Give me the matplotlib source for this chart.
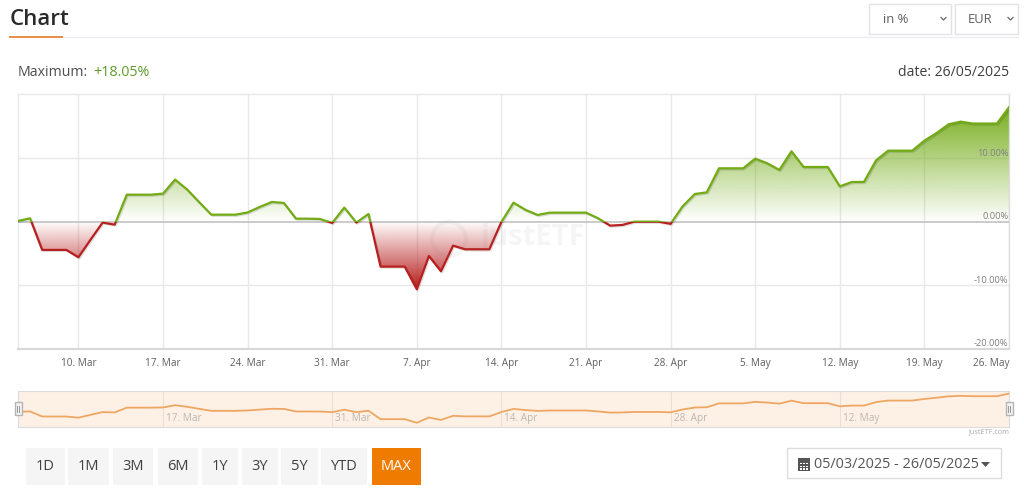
import numpy as np
import pandas as pd
import matplotlib
matplotlib.use("Agg")
import matplotlib.pyplot as plt
import matplotlib.dates as mdates
import matplotlib.patheffects as pe
from matplotlib.patches import Rectangle, Circle, Polygon

plt.rcParams["font.family"] = ["Open Sans", "DejaVu Sans"]

# daily performance in %, 05/03/2025 - 26/05/2025
march = [0.16, 0.58, -4.4, -4.4, -4.4, -5.56, -2.8, -0.1, -0.42, 4.3, 4.3, 4.3, 4.46, 6.67,
         5.1, 3.1, 1.15, 1.15, 1.15, 1.5, 2.36, 3.15, 3.0, 0.52, 0.52, 0.47, -0.16]
april = [2.26, -0.1, 1.26, -7.03, -7.03, -7.03, -10.6, -5.35, -7.77, -3.73, -4.3, -4.3, -4.3,
         0.0, 3.04, 1.9, 1.1, 1.47, 1.47, 1.47, 1.47, 0.58, -0.58, -0.47, 0.05, 0.05, 0.05,
         -0.3, 2.47, 4.4]
may = [4.67, 8.45, 8.45, 8.45, 9.97, 9.24, 8.19, 11.13, 8.66, 8.66, 8.66, 5.6, 6.3, 6.3, 9.7,
       11.23, 11.23, 11.23, 12.8, 14.0, 15.38, 15.8, 15.5, 15.5, 15.5, 18.05]

week_dates = ["2025-03-10", "2025-03-17", "2025-03-24", "2025-03-31", "2025-04-07", "2025-04-14",
              "2025-04-21", "2025-04-28", "2025-05-05", "2025-05-12", "2025-05-19", "2025-05-26"]
week_labels = ["10. Mar", "17. Mar", "24. Mar", "31. Mar", "7. Apr", "14. Apr",
               "21. Apr", "28. Apr", "5. May", "12. May", "19. May", "26. May"]
nav_dates = ["2025-03-17", "2025-03-31", "2025-04-14", "2025-04-28", "2025-05-12"]
nav_labels = ["17. Mar", "31. Mar", "14. Apr", "28. Apr", "12. May"]
y_ticks = [10, 0, -10, -20]
y_labels = ["10.00%", "0.00%", "-10.00%", "-20.00%"]
buttons = ["1D", "1M", "3M", "6M", "1Y", "3Y", "5Y", "YTD", "MAX"]
button_edges = [(26, 65), (68, 109), (113, 153), (158, 198), (202, 238), (242, 278), (281, 318),
                (321, 367), (372, 421)]

W, H = 1024, 497
GREEN = "#72ab14"
RED = "#b81f1f"
GRID = "#e8e8e8"

values = np.array(march + april + may)
x = mdates.date2num(pd.date_range("2025-03-05", "2025-05-26"))
week_x = mdates.date2num(pd.to_datetime(week_dates))
nav_x = mdates.date2num(pd.to_datetime(nav_dates))


def px_axes(fig, left, top, right, bottom, **kw):
    return fig.add_axes([left / W, 1 - bottom / H, (right - left) / W, (bottom - top) / H], **kw)


def gradient(ax, color, extent, top_alpha, clip):
    # vertical colour ramp, clipped to the area under the line
    rgba = np.zeros((256, 1, 4))
    rgba[..., :3] = matplotlib.colors.to_rgb(color)
    rgba[..., 3] = np.linspace(top_alpha[0], top_alpha[1], 256)[:, None]
    im = ax.imshow(rgba, extent=extent, aspect="auto", origin="upper", zorder=2, interpolation="bilinear")
    im.set_clip_path(clip)


def draw_main(ax):
    ax.set_xlim(x[0], x[-1])
    ax.set_ylim(-20, 20.15)
    ax.set_facecolor("none")
    for s in ax.spines.values():
        s.set_color(GRID)
        s.set_linewidth(1)
    ax.spines["bottom"].set_color("#d8d8d8")
    ax.spines["bottom"].set_linewidth(1.5)
    ax.spines["right"].set_color("#dddddd")

    ax.set_xticks(week_x)
    ax.set_xticklabels(week_labels, color="#5f5f5f", fontsize=7.2)
    ax.get_xticklabels()[-1].set_ha("right")
    ax.tick_params(axis="x", length=0, pad=6.5)
    ax.set_yticks([10, -10])
    ax.set_yticklabels([])
    ax.tick_params(axis="y", length=0)
    ax.grid(True, color=GRID, linewidth=1)
    ax.set_axisbelow(True)

    poly = ax.fill_between(x, values, 0, color="none", linewidth=0)
    clip = matplotlib.transforms.TransformedPath(poly.get_paths()[0], ax.transData)
    gradient(ax, "#78ae1e", (x[0], x[-1], 0, values.max()), (1, 0), clip)
    gradient(ax, "#b71c1c", (x[0], x[-1], values.min(), 0), (0, 1), clip)
    ax.set_xlim(x[0], x[-1])
    ax.set_ylim(-20, 20.15)

    ax.axhline(0, color="#bdbdbd", linewidth=1.1, zorder=3)

    shadow = [pe.SimpleLineShadow(offset=(0.8, -0.8), shadow_color="k", alpha=0.12), pe.Normal()]
    up, = ax.plot(x, values, color=GREEN, linewidth=1.6, zorder=4, path_effects=shadow)
    down, = ax.plot(x, values, color=RED, linewidth=1.6, zorder=4, path_effects=shadow)
    up.set_clip_path(Rectangle((x[0], 0), x[-1] - x[0], 21, transform=ax.transData))
    down.set_clip_path(Rectangle((x[0], -21), x[-1] - x[0], 21, transform=ax.transData))

    for v, lab in zip(y_ticks, y_labels):
        ax.text(0.9995, v + 0.1, lab, transform=ax.get_yaxis_transform(), ha="right", va="bottom",
                color="#7f7f7f", fontsize=6.7, zorder=5)


def draw_navigator(ax):
    ax.set_xlim(x[0], x[-1])
    ax.set_ylim(-14.7, 20.6)
    ax.set_facecolor("#fdf1e6")
    for s in ax.spines.values():
        s.set_color("#dcdcdc")
    ax.set_xticks([])
    ax.set_yticks([])
    for d, lab in zip(nav_x, nav_labels):
        ax.axvline(d, color="#e9dfd5", linewidth=0.8, zorder=1)
        ax.annotate(lab, (d, 0), xycoords=("data", "axes fraction"), xytext=(3, 3), textcoords="offset pixels",
                    color="#bdb7b0", fontsize=7.2, ha="left", va="bottom")
    ax.plot(x, values, color="#eea763", linewidth=1.3, zorder=3)


def draw_ui(ui):
    ui.set_xlim(0, W)
    ui.set_ylim(H, 0)
    ui.axis("off")

    ui.text(10, 19.5, "Chart", fontsize=16, color="#2a2a2a", ha="left", va="center", fontweight="semibold")
    ui.plot([9, 1018], [36.5, 36.5], color="#e9edf2", linewidth=0.9)
    ui.plot([9, 63], [37, 37], color="#e8873a", linewidth=1.3, solid_capstyle="butt")

    ui.text(18, 72, "Maximum:", fontsize=10.2, color="#4d4d4d", va="center")
    ui.text(93, 72, "+18.05%", fontsize=10.3, color="#5f9a2a", va="center")
    ui.text(1009, 72, "date: 26/05/2025", fontsize=10.1, color="#3d3d3d", ha="right", va="center")

    for left, right, lab, tx in [(869, 951, "in %", 883), (955, 1018, "EUR", 968)]:
        ui.add_patch(Rectangle((left, 3.5), right - left, 30.5, facecolor="white", edgecolor="#e3e3e3", linewidth=1))
        ui.text(tx, 19.5, lab, fontsize=9.4, color="#5f5f5f", va="center")
        ui.plot([right - 10, right - 7.5, right - 5], [17.5, 20, 17.5], color="#666666", linewidth=0.9)

    for lab, (left, right) in zip(buttons, button_edges):
        active = lab == "MAX"
        ui.add_patch(Rectangle((left, 448), right - left, 37, linewidth=0,
                               facecolor="#ef7b00" if active else "#f5f5f5"))
        ui.text((left + right) / 2, 467, lab, fontsize=10.5, ha="center", va="center",
                color="white" if active else "#3f3f3f")

    ui.add_patch(Rectangle((787, 448), 214, 30, facecolor="white", edgecolor="#dddddd", linewidth=1))
    ui.text(814, 464, "05/03/2025 - 26/05/2025", fontsize=10.4, color="#555555", va="center")
    ui.add_patch(Rectangle((798, 458), 12, 13, facecolor="#555555", edgecolor="none"))
    for gx in (800, 803, 806):
        for gy in (462.5, 465.5, 468):
            ui.add_patch(Rectangle((gx, gy), 1.6, 1.6, facecolor="white", edgecolor="none"))
    ui.add_patch(Polygon([(981, 462), (990, 462), (985.5, 467)], facecolor="#555555", edgecolor="none"))

    ui.text(1009, 433, "justETF.com", fontsize=5.2, color="#aaaaaa", ha="right", va="center")


def draw_overlay(top):
    # watermark and navigator handles sit above the plot areas
    top.set_xlim(0, W)
    top.set_ylim(H, 0)
    top.axis("off")
    top.patch.set_alpha(0)
    top.add_patch(Circle((449, 239), 17, facecolor="none", edgecolor="#8a8a8a", linewidth=3, alpha=0.08))
    top.text(481, 238, "justETF", fontsize=21, fontweight="bold", color="#8a8a8a", alpha=0.08,
             ha="left", va="center")
    for hx in (18, 1009):
        top.add_patch(Rectangle((hx - 3.5, 402), 7, 13, facecolor="#f2f2f2", edgecolor="#b5b5b5", linewidth=1))
        top.plot([hx - 1, hx - 1], [405.5, 411.5], color="#999999", linewidth=0.7)
        top.plot([hx + 1, hx + 1], [405.5, 411.5], color="#999999", linewidth=0.7)
    top.set_xlim(0, W)
    top.set_ylim(H, 0)


def main():
    fig = plt.figure(figsize=(W / 100, H / 100), dpi=100, facecolor="white")
    ui = fig.add_axes([0, 0, 1, 1], zorder=0)
    draw_ui(ui)

    ax = px_axes(fig, 18, 94, 1009, 349, zorder=1)
    draw_main(ax)

    nav = px_axes(fig, 18, 391, 1009, 427, zorder=1)
    draw_navigator(nav)

    top = fig.add_axes([0, 0, 1, 1], zorder=2)
    draw_overlay(top)

    fig.savefig("out.png", dpi=100)
    plt.close(fig)


if __name__ == "__main__":
    main()
